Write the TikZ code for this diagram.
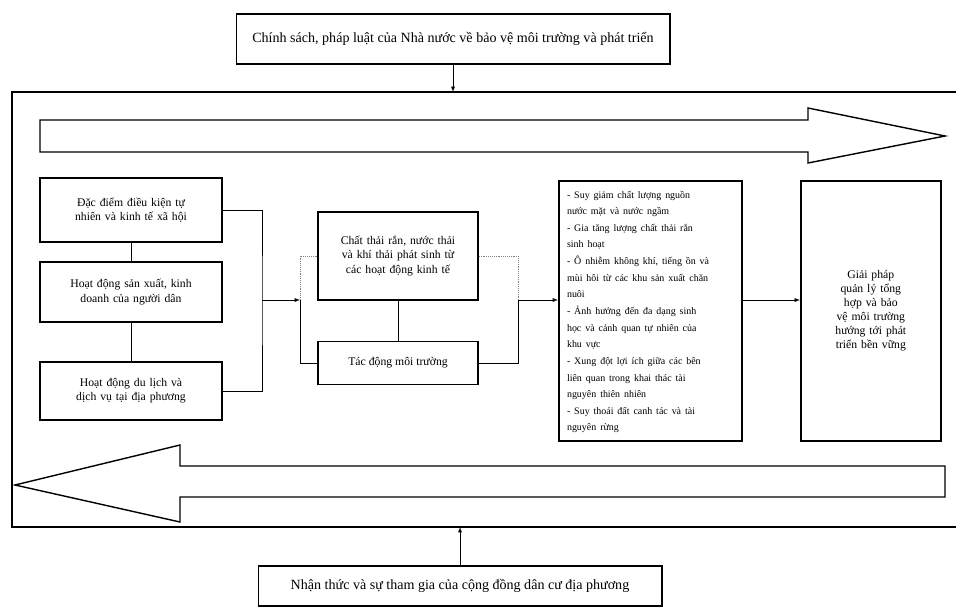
\documentclass[tikz,border=0pt]{standalone}
\usepackage{fontspec}
\setmainfont{Liberation Serif}
\usetikzlibrary{positioning,arrows}

\tikzset{
	boite/.style={draw, line width=1.4pt, align=center, font=\normalsize, inner sep=3pt},
	fleche/.style={-latex, line width=0.6pt},
	trait/.style={line width=0.6pt},
	pointille/.style={line width=0.6pt, gray, densely dotted},
	bloc/.style={draw, line width=1.2pt, fill=white},
}

\begin{document}
\begin{tikzpicture}[x=0.03cm,y=-0.03cm]
	\useasboundingbox (0,0) rectangle (956,612);
	% cadre et entrees
	\draw[line width=1.4pt] (958,92) -- (12,92) -- (12,527) -- (958,527);
	\node[boite, font=\large, minimum width=13cm, minimum height=1.5cm] (politique) at (453,39) {Chính sách, pháp luật của Nhà nước về bảo vệ môi trường và phát triển};
	\node[boite, font=\large, minimum width=12.1cm, minimum height=1.2cm] (nhanthuc) at (460,586) {Nhận thức và sự tham gia của cộng đồng dân cư địa phương};
	\coordinate (haut) at (453,92);
	\coordinate (bas) at (460,527);
	\draw[fleche] (politique) -- (haut);
	\draw[fleche] (nhanthuc) -- (bas);
	% fleches larges
	\draw[bloc] (40,120) -- (808,120) -- (808,108) -- (945,136) -- (808,163) -- (808,152) -- (40,152) -- cycle;
	\draw[bloc] (945,466) -- (180,466) -- (180,445) -- (15,485) -- (180,522) -- (180,497) -- (945,497) -- cycle;
	% colonne de gauche
	\node[boite, minimum width=5.46cm, minimum height=1.92cm, text width=4.6cm] (tunhien) at (131,210) {Đặc điểm điều kiện tự nhiên và kinh tế xã hội};
	\node[boite, minimum width=5.46cm, minimum height=1.8cm, text width=4.6cm] (sanxuat) at (131,292) {Hoạt động sản xuất, kinh doanh của người dân};
	\node[boite, minimum width=5.46cm, minimum height=1.74cm, text width=4.6cm] (dulich) at (131,391) {Hoạt động du lịch và dịch vụ tại địa phương};
	\draw[trait] (tunhien) -- (sanxuat);
	\draw[trait] (sanxuat) -- (dulich);
	% colonne du milieu
	\node[boite, minimum width=4.8cm, minimum height=2.64cm, text width=4cm] (chatthai) at (398,256) {Chất thải rắn, nước thải và khí thải phát sinh từ các hoạt động kinh tế};
	\node[boite, minimum width=4.8cm, minimum height=1.29cm] (tacdong) at (398,363) {Tác động môi trường};
	\draw[trait] (chatthai) -- (tacdong);
	\coordinate (jg) at (262,300);
	\coordinate (jm) at (300,300);
	\coordinate (jd) at (518,300);
	\draw[trait] (tunhien.east) -| (jg) |- (dulich.east);
	\draw[pointille] (chatthai.west) -| (jm);
	\draw[trait] (jm) |- (tacdong.west);
	\draw[pointille] (chatthai.east) -| (jd);
	\draw[trait] (jd) |- (tacdong.east);
	\draw[fleche] (jg) -- (jm);
	% colonnes de droite
	\node[boite, minimum width=5.46cm, minimum height=7.8cm, text width=5cm, anchor=north west, inner sep=7pt] (hauqua) at (558,180) {\parbox[t][7.2cm][t]{5cm}{\fontsize{8.5}{14.2}\selectfont\raggedright
		\parbox{4.3cm}{\raggedright
		- Suy giảm chất lượng nguồn nước mặt và nước ngầm\\
		- Gia tăng lượng chất thải rắn sinh hoạt\\
		- Ô nhiễm không khí, tiếng ồn và mùi hôi từ các khu sản xuất chăn nuôi\\
		- Ảnh hưởng đến đa dạng sinh học và cảnh quan tự nhiên của khu vực\\
		- Xung đột lợi ích giữa các bên liên quan trong khai thác tài nguyên thiên nhiên\\
		- Suy thoái đất canh tác và tài nguyên rừng}}};
	\node[boite, font=\normalsize, minimum width=4.2cm, minimum height=7.8cm, text width=2.4cm, anchor=north west] (giaiphap) at (800,180) {Giải pháp quản lý tổng hợp và bảo vệ môi trường hướng tới phát triển bền vững};
	\draw[fleche] (jd) -- (jd -| hauqua.west);
	\draw[fleche] (hauqua.east |- jd) -- (giaiphap.west |- jd);
\end{tikzpicture}
\end{document}
